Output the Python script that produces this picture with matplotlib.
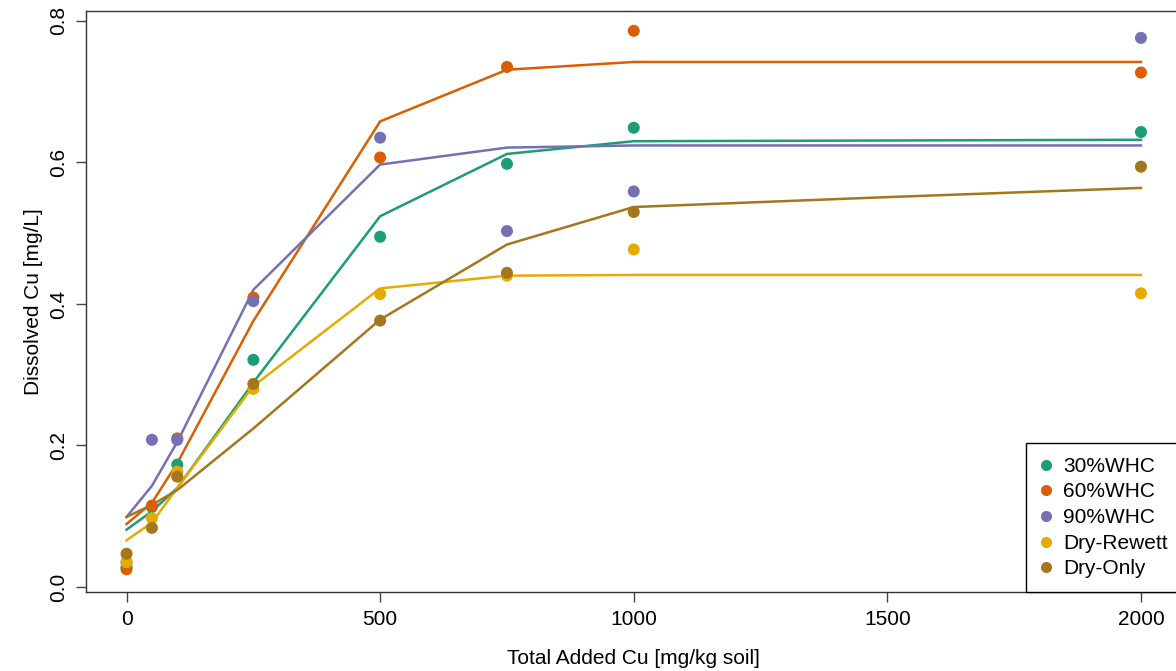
import matplotlib
matplotlib.use('Agg')
import matplotlib.pyplot as plt

plt.rcParams['font.family'] = ['Liberation Sans', 'DejaVu Sans']

# measured points
dose = [0, 50, 100, 250, 500, 750, 1000, 2000]
whc30 = [0.028, 0.113, 0.173, 0.321, 0.495, 0.598, 0.649, 0.643]
whc60 = [0.025, 0.115, 0.210, 0.409, 0.607, 0.735, 0.786, 0.727]
whc90 = [0.035, 0.208, 0.208, 0.404, 0.635, 0.503, 0.559, 0.776]
dry_rewett = [0.035, 0.097, 0.163, 0.280, 0.414, 0.440, 0.477, 0.415]
dry_only = [0.047, 0.0835, 0.156, 0.287, 0.3765, 0.444, 0.530, 0.594]

# fitted curves
fit_dose = [0, 50, 100, 250, 500, 750, 1000, 1500, 2000]
fit30 = [0.081, 0.107, 0.140, 0.289, 0.524, 0.612, 0.630, 0.631, 0.632]
fit60 = [0.089, 0.119, 0.175, 0.376, 0.658, 0.731, 0.742, 0.742, 0.742]
fit90 = [0.099, 0.143, 0.205, 0.420, 0.597, 0.621, 0.624, 0.624, 0.624]
fit_dr = [0.066, 0.091, 0.140, 0.284, 0.422, 0.440, 0.441, 0.441, 0.441]
fit_do = [0.099, 0.116, 0.137, 0.224, 0.378, 0.484, 0.537, 0.551, 0.564]

labels = ['30%WHC', '60%WHC', '90%WHC', 'Dry-Rewett', 'Dry-Only']
colors = ['#1B9E77', '#D95F02', '#7570B3', '#E6AB02', '#A6761D']
points = [whc30, whc60, whc90, dry_rewett, dry_only]
fits = [fit30, fit60, fit90, fit_dr, fit_do]

fig = plt.figure(figsize=(11.76, 6.71), dpi=100)
ax = fig.add_axes([0.0731, 0.1177, 0.9316, 0.866])

for y, c in zip(points, colors):
    ax.scatter(dose, y, s=75, color=c, edgecolors='none', zorder=3)
for y, c in zip(fits, colors):
    ax.plot(fit_dose, y, color=c, lw=1.8, zorder=2)

ax.set_xlim(-80, 2080)
ax.set_ylim(-0.0071, 0.8141)
ax.set_xticks([0, 500, 1000, 1500, 2000])
ax.set_yticks([0.0, 0.2, 0.4, 0.6, 0.8])
ax.set_yticklabels(['0.0', '0.2', '0.4', '0.6', '0.8'], rotation=90, va='center')
ax.tick_params(axis='both', labelsize=15, length=7, width=1, color='#444444', pad=6)
for s in ax.spines.values():
    s.set_color('#333333')
    s.set_linewidth(1)

ax.set_xlabel('Total Added Cu [mg/kg soil]', fontsize=15, labelpad=14)
ax.set_ylabel('Dissolved Cu [mg/L]', fontsize=15, labelpad=4)

handles = [plt.Line2D([], [], ls='none', marker='o', ms=8, color=c, mec='none') for c in colors]
leg = ax.legend(handles, labels, loc='lower right', bbox_to_anchor=(1.0, 0.0),
                borderaxespad=0, fancybox=False, edgecolor='black', fontsize=15,
                handlelength=0.6, handletextpad=0.55, labelspacing=0.32,
                borderpad=0.65, framealpha=1)
leg.get_frame().set_linewidth(1)

fig.savefig('out.png', dpi=100)
